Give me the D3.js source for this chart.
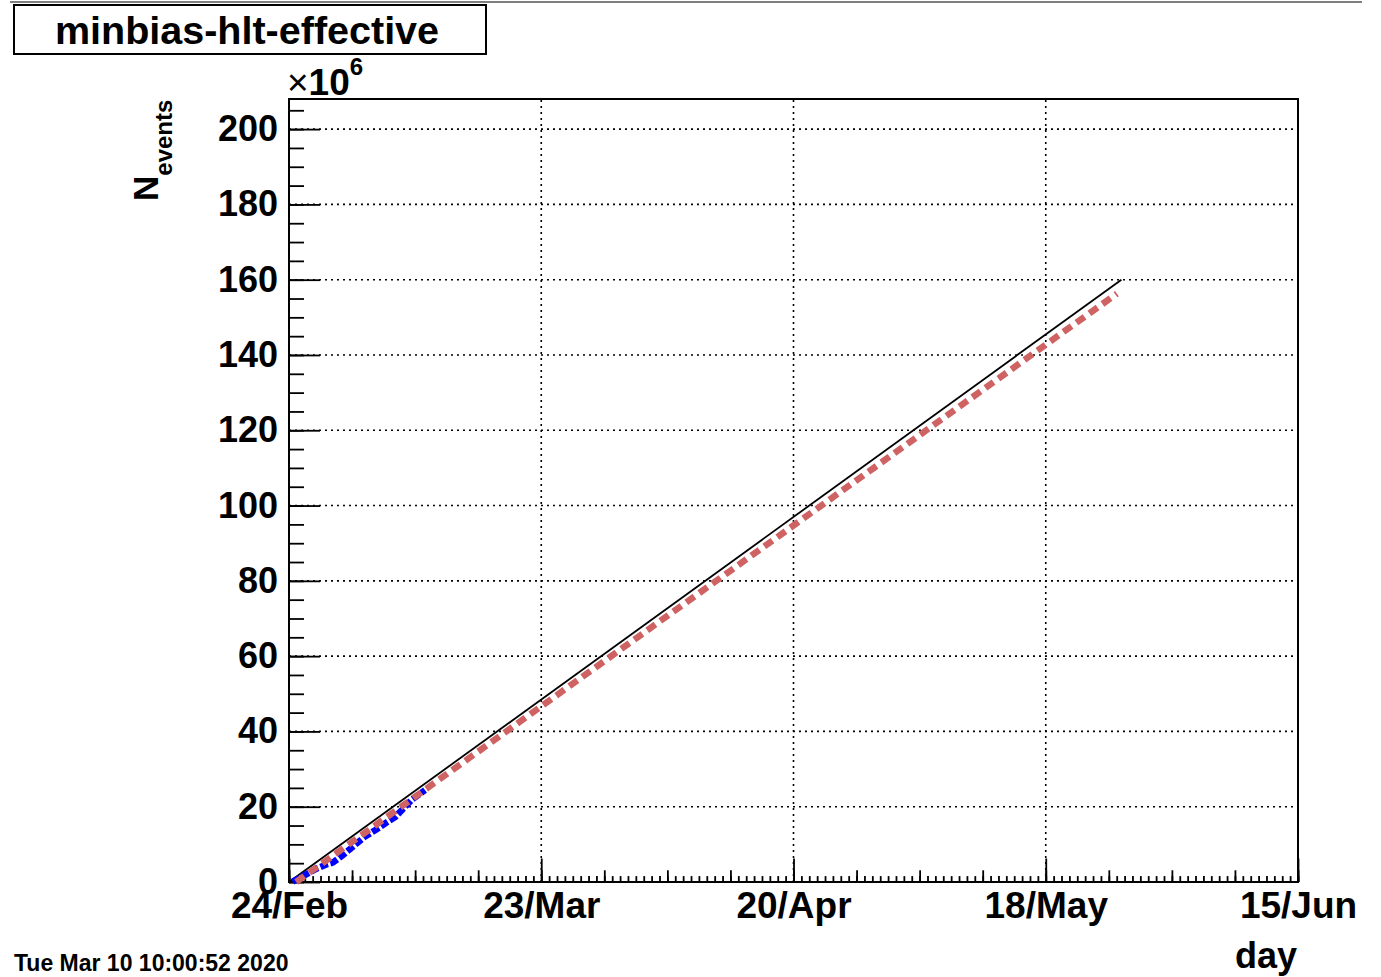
<!DOCTYPE html>
<html>
<head>
<meta charset="utf-8">
<script src="https://cdn.jsdelivr.net/npm/d3@7"></script>
<style>
  body { margin: 0; background: #fff; }
  svg { display: block; font-family: "Liberation Sans", Arial, sans-serif; }
</style>
</head>
<body>
<svg class="chart"></svg>
<script>
// data (days after 24/Feb, values in 10^6 events)
var recordedDays   = [0.4, 1.8, 3.1, 4.2, 4.9, 6.0, 7.3, 8.4, 9.6, 10.7, 11.8, 12.7, 13.6, 15.1];
var recordedEvents = [0.1, 1.9, 3.6, 4.7, 5.2, 7.2, 9.8, 12.0, 13.8, 15.6, 17.3, 19.5, 21.8, 24.4];
var targetDays   = [0, 92.4];
var targetEvents = [0, 160];
var fitDays   = [0.8, 91.9];
var fitEvents = [0, 156.3];
var yTicks = d3.range(0, 201, 20);
var title = "minbias-hlt-effective";
var stamp = "Tue Mar 10 10:00:52 2020";

var W = 1381, H = 977;
var margin = {top: 99, right: 83, bottom: 95, left: 289};
var startDate = Date.UTC(2020, 1, 24);
function dayToDate(d) { return new Date(startDate + d * 864e5); }

var svg = d3.select(".chart").attr("width", W).attr("height", H);

var x = d3.scaleUtc()
    .domain([dayToDate(0), dayToDate(112)])
    .range([margin.left, W - margin.right]);
var y = d3.scaleLinear()
    .domain([0, 208])
    .range([H - margin.bottom, margin.top]);

var x0 = x.range()[0], x1 = x.range()[1], y0 = y.range()[0], y1 = y.range()[1];

// thin rule at the very top of the canvas
svg.append("line").attr("x1", 10).attr("x2", 1362).attr("y1", 2).attr("y2", 2)
    .attr("stroke", "#555").attr("stroke-width", 1.5);

// grid (dotted)
var grid = svg.append("g").attr("stroke", "#000").attr("stroke-width", 1.6).attr("stroke-dasharray", "2,4");
grid.selectAll(".gx").data(d3.range(28, 112, 28)).enter().append("line")
    .attr("x1", function(d) { return x(dayToDate(d)); })
    .attr("x2", function(d) { return x(dayToDate(d)); })
    .attr("y1", y0).attr("y2", y1);
grid.selectAll(".gy").data(yTicks.slice(1)).enter().append("line")
    .attr("y1", function(d) { return y(d); })
    .attr("y2", function(d) { return y(d); })
    .attr("x1", x0).attr("x2", x1);

// x axis: small / medium / major ticks pointing inward
function xAxisLayer(days, len) {
    return d3.axisBottom(x).tickValues(days.map(dayToDate)).tickSizeInner(-len).tickSizeOuter(0).tickFormat("");
}
svg.append("g").attr("transform", "translate(0," + y0 + ")").call(xAxisLayer(d3.range(0, 112.01, 0.875), 5.9));
svg.append("g").attr("transform", "translate(0," + y0 + ")").call(xAxisLayer(d3.range(0, 113, 7), 11.7));
var xMajor = svg.append("g").attr("transform", "translate(0," + y0 + ")")
    .call(d3.axisBottom(x).tickValues(d3.range(0, 113, 28).map(dayToDate))
        .tickSizeInner(-23.5).tickSizeOuter(0).tickPadding(10)
        .tickFormat(d3.utcFormat("%d/%b")));
xMajor.selectAll("text").attr("font-size", 37).attr("font-weight", "bold").attr("fill", "#000");

// y axis
svg.append("g").attr("transform", "translate(" + x0 + ",0)")
    .call(d3.axisLeft(y).tickValues(d3.range(0, 208, 5)).tickSizeInner(-15).tickSizeOuter(0).tickFormat(""));
var yMajor = svg.append("g").attr("transform", "translate(" + x0 + ",0)")
    .call(d3.axisLeft(y).tickValues(yTicks).tickSizeInner(-31).tickSizeOuter(0).tickPadding(11));
yMajor.selectAll("text").attr("font-size", 36).attr("font-weight", "bold").attr("fill", "#000");

svg.selectAll(".domain").remove();
svg.selectAll(".tick line").attr("stroke", "#000").attr("stroke-width", 1.8);

// frame
svg.append("rect").attr("x", x0).attr("y", y1).attr("width", x1 - x0).attr("height", y0 - y1)
    .attr("fill", "none").attr("stroke", "#000").attr("stroke-width", 2);

// lines
var line = d3.line()
    .x(function(d) { return x(dayToDate(d[0])); })
    .y(function(d) { return y(d[1]); });

svg.append("path").datum(d3.zip(targetDays, targetEvents))
    .attr("d", line).attr("fill", "none").attr("stroke", "#000").attr("stroke-width", 1.8);
svg.append("path").datum(d3.zip(recordedDays, recordedEvents))
    .attr("d", line).attr("fill", "none").attr("stroke", "#0000ff").attr("stroke-width", 6.5)
    .attr("stroke-dasharray", "8,2.5");
svg.append("path").datum(d3.zip(fitDays, fitEvents))
    .attr("d", line).attr("fill", "none").attr("stroke", "#cf6262").attr("stroke-width", 6.5)
    .attr("stroke-dasharray", "10,6");

// title box
svg.append("rect").attr("x", 14).attr("y", 5).attr("width", 472).attr("height", 49)
    .attr("fill", "#fff").attr("stroke", "#000").attr("stroke-width", 2);
svg.append("text").attr("x", 247).attr("y", 44).attr("text-anchor", "middle")
    .attr("font-size", 39.5).attr("font-weight", "bold").text(title);

// exponent
var ex = svg.append("text").attr("x", 287).attr("y", 95).attr("font-size", 37);
ex.append("tspan").text("\u00d7");
ex.append("tspan").attr("font-weight", "bold").text("10");
ex.append("tspan").attr("font-weight", "bold").attr("font-size", 24).attr("dy", -20).text("6");

// y title
var yt = svg.append("text").attr("transform", "translate(158,201) rotate(-90)")
    .attr("font-size", 35).attr("font-weight", "bold");
yt.append("tspan").text("N");
yt.append("tspan").attr("font-size", 24).attr("dy", 14).text("events");

// x title
svg.append("text").attr("x", 1297).attr("y", 968).attr("text-anchor", "end")
    .attr("font-size", 36).attr("font-weight", "bold").text("day");

// date stamp
svg.append("text").attr("x", 14).attr("y", 971)
    .attr("font-size", 23).attr("font-weight", "bold").text(stamp);
</script>
</body>
</html>
